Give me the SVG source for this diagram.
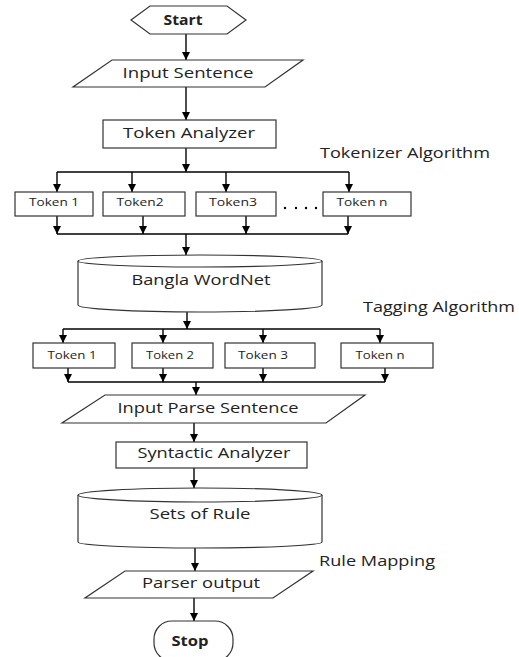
<svg xmlns="http://www.w3.org/2000/svg" width="519" height="657" viewBox="0 0 519 657">
<defs>
<marker id="ah" markerUnits="userSpaceOnUse" markerWidth="9" markerHeight="9" refX="8" refY="4" orient="auto">
<path d="M0,0 L8,4 L0,8 Z" fill="#000"/>
</marker>
<style>
.s{fill:#fff;stroke:#333;stroke-width:1.2}
.c{fill:none;stroke:#000;stroke-width:1.4}
.a{fill:none;stroke:#000;stroke-width:1.4;marker-end:url(#ah)}
text{font-family:"Open Sans","Liberation Sans",Arial,sans-serif;fill:#222}
.t{font-size:14px;text-anchor:middle}
.k{font-size:10px;text-anchor:middle}
.b{font-weight:bold}
.l{font-size:14px}
</style>
</defs>
<rect width="519" height="657" fill="#fff"/>
<g id="connectors">
<path class="a" d="M186,34 V60"/>
<path class="a" d="M186,87 V120"/>
<path class="a" d="M186,148 V172"/>
<path class="c" d="M57,172 H349"/>
<path class="a" d="M57,172 V192"/>
<path class="a" d="M132,172 V192"/>
<path class="a" d="M226,172 V192"/>
<path class="a" d="M349,172 V192"/>
<path class="a" d="M57,216 V234"/>
<path class="a" d="M143,216 V234"/>
<path class="a" d="M246,216 V234"/>
<path class="a" d="M348,216 V234"/>
<path class="c" d="M57,234 H348"/>
<path class="a" d="M186,234 V255"/>
<path class="a" d="M187,312 V329"/>
<path class="c" d="M63,329 H380"/>
<path class="a" d="M63,329 V343"/>
<path class="a" d="M163,329 V343"/>
<path class="a" d="M263,329 V343"/>
<path class="a" d="M380,329 V343"/>
<path class="a" d="M68,368 V382"/>
<path class="a" d="M163,368 V382"/>
<path class="a" d="M263,368 V382"/>
<path class="a" d="M385,368 V382"/>
<path class="c" d="M68,382 H385"/>
<path class="a" d="M196,382 V395"/>
<path class="a" d="M194,423 V442"/>
<path class="a" d="M194,468 V488"/>
<path class="a" d="M195,548 V571"/>
<path class="a" d="M194,598 V621"/>
<g fill="#000"><circle cx="285" cy="208" r="1.2"/><circle cx="296" cy="208" r="1.2"/><circle cx="306" cy="208" r="1.2"/><circle cx="316" cy="208" r="1.2"/></g>
</g>
<g id="start">
<polygon class="s" points="131,20 150,6 227,6 246,20 227,34 150,34"/>
<text class="t b" x="183" y="25" textLength="39" lengthAdjust="spacingAndGlyphs">Start</text>
</g>
<g id="input-sentence">
<polygon class="s" points="112,60 303,60 265,87 73,87"/>
<text class="t" x="188" y="78" textLength="131" lengthAdjust="spacingAndGlyphs">Input Sentence</text>
</g>
<g id="token-analyzer">
<rect class="s" x="103" y="120" width="173" height="28"/>
<text class="t" x="189" y="138" textLength="132" lengthAdjust="spacingAndGlyphs">Token Analyzer</text>
</g>
<g id="tokenizer-label">
<text class="l" x="320" y="158" textLength="170" lengthAdjust="spacingAndGlyphs">Tokenizer Algorithm</text>
</g>
<g id="tok1"><rect class="s" x="15" y="192" width="78" height="24"/><text class="k" x="54" y="206" textLength="50" lengthAdjust="spacingAndGlyphs">Token 1</text></g>
<g id="tok2"><rect class="s" x="103" y="192" width="82" height="24"/><text class="k" x="140" y="206" textLength="47" lengthAdjust="spacingAndGlyphs">Token2</text></g>
<g id="tok3"><rect class="s" x="196" y="192" width="80" height="24"/><text class="k" x="233" y="206" textLength="48" lengthAdjust="spacingAndGlyphs">Token3</text></g>
<g id="tokn"><rect class="s" x="323" y="192" width="88" height="24"/><text class="k" x="362" y="206" textLength="51" lengthAdjust="spacingAndGlyphs">Token n</text></g>
<g id="bangla-wordnet">
<path class="s" d="M78,261 V305 A122,7 0 0 0 322,305 V261"/>
<ellipse class="s" cx="200" cy="261" rx="122" ry="6"/>
<text class="t" x="201" y="285" textLength="139" lengthAdjust="spacingAndGlyphs">Bangla WordNet</text>
</g>
<g id="tagging-label">
<text class="l" x="363" y="312" textLength="152" lengthAdjust="spacingAndGlyphs">Tagging Algorithm</text>
</g>
<g id="tag1"><rect class="s" x="33" y="343" width="82" height="25"/><text class="k" x="72" y="359" textLength="49" lengthAdjust="spacingAndGlyphs">Token 1</text></g>
<g id="tag2"><rect class="s" x="132" y="343" width="81" height="25"/><text class="k" x="170" y="359" textLength="48" lengthAdjust="spacingAndGlyphs">Token 2</text></g>
<g id="tag3"><rect class="s" x="225" y="343" width="90" height="25"/><text class="k" x="263" y="359" textLength="50" lengthAdjust="spacingAndGlyphs">Token 3</text></g>
<g id="tagn"><rect class="s" x="341" y="343" width="92" height="25"/><text class="k" x="380" y="359" textLength="49" lengthAdjust="spacingAndGlyphs">Token n</text></g>
<g id="input-parse-sentence">
<polygon class="s" points="105,395 365,395 326,423 62,423"/>
<text class="t" x="208" y="413" textLength="181" lengthAdjust="spacingAndGlyphs">Input Parse Sentence</text>
</g>
<g id="syntactic-analyzer">
<rect class="s" x="116" y="442" width="191" height="26"/>
<text class="t" x="214" y="458" textLength="153" lengthAdjust="spacingAndGlyphs">Syntactic Analyzer</text>
</g>
<g id="sets-of-rule">
<path class="s" d="M78,495 V542 A122,6 0 0 0 322,542 V495"/>
<ellipse class="s" cx="200" cy="495" rx="122" ry="7"/>
<text class="t" x="200" y="519" textLength="101" lengthAdjust="spacingAndGlyphs">Sets of Rule</text>
</g>
<g id="rule-mapping-label">
<text class="l" x="319" y="566" textLength="116" lengthAdjust="spacingAndGlyphs">Rule Mapping</text>
</g>
<g id="parser-output">
<polygon class="s" points="125,571 313,571 273,598 85,598"/>
<text class="t" x="201" y="588" textLength="118" lengthAdjust="spacingAndGlyphs">Parser output</text>
</g>
<g id="stop">
<rect class="s" x="154" y="621" width="79" height="40" rx="18"/>
<text class="t b" x="190" y="646" textLength="37" lengthAdjust="spacingAndGlyphs">Stop</text>
</g>
</svg>
